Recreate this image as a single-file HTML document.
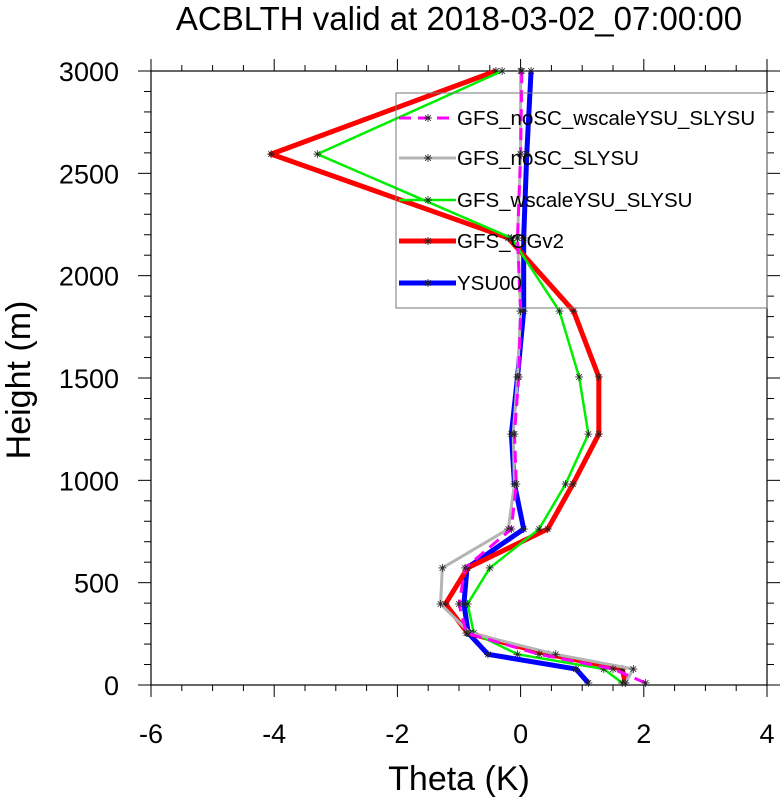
<!DOCTYPE html>
<html><head><meta charset="utf-8"><style>
body{margin:0;background:#fff;}
svg text{font-family:"Liberation Sans",sans-serif;}
</style></head><body>
<svg id="chart" width="783" height="797" xmlns="http://www.w3.org/2000/svg">
<text x="459" y="30" font-size="33" text-anchor="middle">ACBLTH valid at 2018-03-02_07:00:00</text>
<text x="459" y="790" font-size="34" text-anchor="middle">Theta (K)</text>
<text transform="translate(30,380) rotate(-90)" font-size="34" text-anchor="middle">Height (m)</text>
<g id="axes"></g><g id="series"></g><g id="legend"></g>
</svg>
<script>
const heights=[10,78,150,254,396,572,762,982,1226,1505,1827,2184,2594,3000];
const seriesNames=["GFS_noSC_wscaleYSU_SLYSU","GFS_noSC_SLYSU","GFS_wscaleYSU_SLYSU","GFS_OGv2","YSU00"];
const magentaVals=[2.03,1.5,0.3,-0.88,-1.0,-0.9,-0.15,-0.07,-0.1,-0.03,0.0,-0.05,0.0,0.02];
const grayVals=[1.7,1.83,0.57,-0.82,-1.3,-1.27,-0.2,-0.1,-0.12,-0.05,0.0,-0.05,0.0,0.0];
const greenVals=[1.65,1.35,-0.05,-0.76,-0.86,-0.5,0.3,0.73,1.1,0.95,0.63,-0.15,-3.3,-0.3];
const redVals=[1.7,1.65,0.45,-0.86,-1.22,-0.86,0.44,0.85,1.27,1.27,0.86,-0.2,-4.05,-0.4];
const blueVals=[1.1,0.9,-0.53,-0.85,-0.92,-0.87,0.05,-0.1,-0.15,-0.05,0.05,0.05,0.1,0.17];
const xTicks=[-6,-4,-2,0,2,4];
const yTicks=[0,500,1000,1500,2000,2500,3000];
const X0=151,X1=767,Y0=685,Y1=71;
const sx=v=>X0+(v+6)/10*(X1-X0);
const sy=v=>Y0-v/3000*(Y0-Y1);
const NS="http://www.w3.org/2000/svg";
function mk(t,a,p){const e=document.createElementNS(NS,t);for(const k in a)e.setAttribute(k,a[k]);p.appendChild(e);return e;}
const ax=document.getElementById('axes');
const frame=mk('rect',{x:X0,y:Y1,width:X1-X0,height:Y0-Y1,fill:'none',stroke:'#000','stroke-width':1.2},ax);


for(let v=-6;v<=4.001;v+=0.5){const maj=Math.abs(v-Math.round(v/2)*2)<1e-6;const L=maj?12:6;
 mk('line',{x1:sx(v),x2:sx(v),y1:Y0,y2:Y0+L,stroke:'#000'},ax);
 mk('line',{x1:sx(v),x2:sx(v),y1:Y1,y2:Y1-L,stroke:'#000'},ax);}
for(let v=0;v<=3000;v+=100){const maj=v%500===0;const L=maj?13:7;
 mk('line',{x1:X0,x2:X0-L,y1:sy(v),y2:sy(v),stroke:'#000'},ax);
 mk('line',{x1:X1,x2:X1+L,y1:sy(v),y2:sy(v),stroke:'#000'},ax);}
xTicks.forEach(v=>{const t=mk('text',{x:sx(v),y:Y0+58,'font-size':27,'text-anchor':'middle'},ax);t.textContent=v;
 
 });
yTicks.forEach(v=>{const t=mk('text',{x:X0-32,y:sy(v)+10,'font-size':27,'text-anchor':'end'},ax);t.textContent=v;
 
 });
const styles=[{c:'#ff00ff',w:3,d:'12,7',v:magentaVals},{c:'#b4b4b4',w:3,d:'',v:grayVals},{c:'#00ee00',w:2.5,d:'',v:greenVals},{c:'#ff0000',w:5,d:'',v:redVals},{c:'#0000ff',w:5,d:'',v:blueVals}];
const sg=document.getElementById('series');
function star(x,y,g){const r=4;[[r,0],[0,r],[r*0.7,r*0.7],[r*0.7,-r*0.7]].forEach(([a,b])=>mk('line',{x1:x-a,y1:y-b,x2:x+a,y2:y+b,stroke:'#222','stroke-width':0.8},g));}
[4,3,2,1,0].forEach(i=>{const s=styles[i];const g=mk('g',{},sg);
 
 
 const pts=s.v.map((v,j)=>sx(v)+','+sy(heights[j])).join(' ');
 mk('polyline',{points:pts,fill:'none',stroke:s.c,'stroke-width':s.w,'stroke-dasharray':s.d,'stroke-linejoin':'round'},g);
 s.v.forEach((v,j)=>star(sx(v),sy(heights[j]),g));});
const lg=document.getElementById('legend');
const lb=mk('rect',{x:396,y:93,width:371,height:215,fill:'none',stroke:'#777','stroke-width':1},lg);


const ly=[118,158,200,241,283];
seriesNames.forEach((n,i)=>{const s=styles[i];const g=mk('g',{},lg);
 
 
 mk('line',{x1:399,x2:456,y1:ly[i],y2:ly[i],stroke:s.c,'stroke-width':s.w,'stroke-dasharray':s.d},g);
 star(428,ly[i],g);
 const t=mk('text',{x:457,y:ly[i]+7,'font-size':20.5},g);t.textContent=n;});
</script>
</body></html>
